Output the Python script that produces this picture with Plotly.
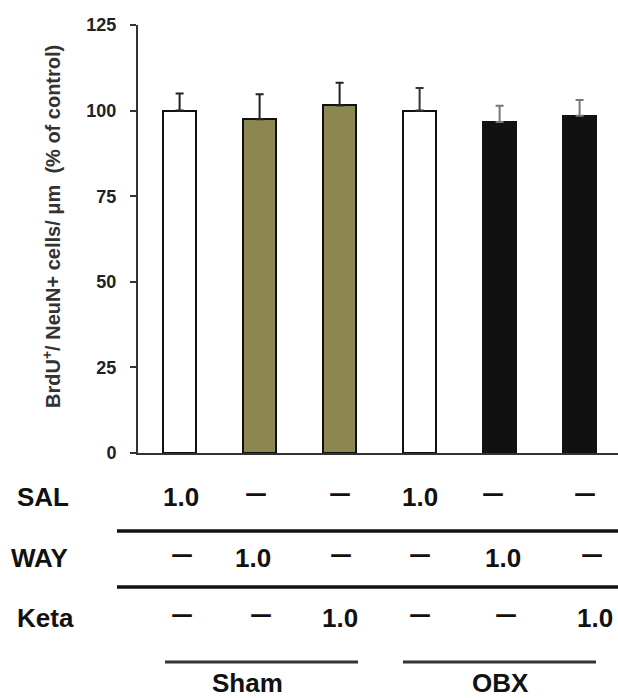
import plotly.graph_objects as go

# ---- data ----
categories = ["Sham SAL", "Sham WAY", "Sham Keta", "OBX SAL", "OBX WAY", "OBX Keta"]
values = [100.0, 97.5, 101.5, 100.0, 96.7, 98.5]
errors = [5.0, 7.3, 6.6, 6.6, 4.7, 4.6]
bar_colors = ["#ffffff", "#8c8650", "#8c8650", "#ffffff", "#111111", "#111111"]
err_colors = ["#222222", "#222222", "#222222", "#333333", "#777777", "#777777"]
y_ticks = [0, 25, 50, 75, 100, 125]

row_labels = ["SAL", "WAY", "Keta"]
table_rows = [
    ["1.0", "\u2014", "\u2014", "1.0", "\u2014", "\u2014"],
    ["\u2014", "1.0", "\u2014", "\u2014", "1.0", "\u2014"],
    ["\u2014", "\u2014", "1.0", "\u2014", "\u2014", "1.0"],
]
groups = ["Sham", "OBX"]

# ---- layout geometry (pixels) ----
W, H = 618, 698
L, R, T, B = 138, 0, 25, 245
pw, ph = W - L - R, H - T - B


def px(x):
    return (x - L) / pw


def py(y):
    return (H - B - y) / ph


FONT = "Liberation Sans, Arial, sans-serif"
BOLD = dict(family=FONT, weight="bold", color="#111111")
DASHFONT = dict(family="DejaVu Sans", weight="bold", color="#111111")

fig = go.Figure()
for c, v, e, bc, ec in zip(categories, values, errors, bar_colors, err_colors):
    fig.add_trace(go.Bar(
        x=[c], y=[v], width=0.41,
        marker=dict(color=bc, line=dict(color="#111111", width=2)),
        error_y=dict(type="data", array=[e], symmetric=False, arrayminus=[0],
                     color=ec, thickness=2, width=4),
        showlegend=False,
    ))

annotations = []
# y-axis title
annotations.append(dict(
    text="BrdU<sup>+</sup>/ NeuN+ cells/ \u03bcm  (% of control)",
    x=px(51), y=py(227), xref="paper", yref="paper", textangle=-90,
    showarrow=False, font=dict(BOLD, size=20, color="#333333"),
    xanchor="center", yanchor="middle",
))

# per-row column centres (pixels), as laid out in the figure
col_x = [
    [181, 256, 340, 420, 493, 585],
    [182, 253, 341, 420, 503, 592],
    [182, 261, 340, 420, 506, 595],
]
row_y = [497, 558, 618]
label_x = [15, 9, 15]
for lab, lx, ry, row, cxs in zip(row_labels, label_x, row_y, table_rows, col_x):
    annotations.append(dict(
        text=lab, x=px(lx), y=py(ry), xref="paper", yref="paper",
        showarrow=False, xanchor="left", yanchor="middle",
        font=dict(BOLD, size=26),
    ))
    for cx, t in zip(cxs, row):
        is_dash = t == "\u2014"
        annotations.append(dict(
            text=t, x=px(cx), y=py(ry - 4 if is_dash else ry),
            xref="paper", yref="paper",
            showarrow=False, xanchor="center", yanchor="middle",
            font=dict(DASHFONT, size=22) if is_dash else dict(BOLD, size=26),
        ))

group_x = [(165, 358, 247), (403, 596, 500)]
for g, (x0, x1, xc) in zip(groups, group_x):
    annotations.append(dict(
        text=g, x=px(xc), y=py(683), xref="paper", yref="paper",
        showarrow=False, xanchor="center", yanchor="middle",
        font=dict(BOLD, size=26),
    ))

shapes = []
for ly in [531, 587]:
    shapes.append(dict(type="line", xref="paper", yref="paper",
                       x0=px(117), x1=px(618), y0=py(ly), y1=py(ly),
                       line=dict(color="#111111", width=3.5)))
for g, (x0, x1, xc) in zip(groups, group_x):
    shapes.append(dict(type="line", xref="paper", yref="paper",
                       x0=px(x0), x1=px(x1), y0=py(662), y1=py(662),
                       line=dict(color="#333333", width=3)))

fig.update_layout(
    width=W, height=H,
    margin=dict(l=L, r=R, t=T, b=B, pad=0),
    paper_bgcolor="white", plot_bgcolor="white",
    font=dict(family=FONT, color="#222222"),
    bargap=0,
    xaxis=dict(type="category", range=[-0.52, 5.48], showticklabels=False,
               showline=True, linecolor="#333333", linewidth=2, ticks="",
               showgrid=False, zeroline=False, fixedrange=True),
    yaxis=dict(range=[0, 125], tickvals=y_ticks, ticks="outside", ticklen=6,
               tickwidth=2, tickcolor="#333333", showline=True,
               linecolor="#333333", linewidth=2, showgrid=False, zeroline=False,
               tickfont=dict(BOLD, size=18, color="#222222"),
               ticklabelstandoff=10),
    annotations=annotations, shapes=shapes,
)

fig.write_html("out.html", config={"displayModeBar": False},
               post_script="document.body.style.margin='0';document.body.style.overflow='hidden';")
